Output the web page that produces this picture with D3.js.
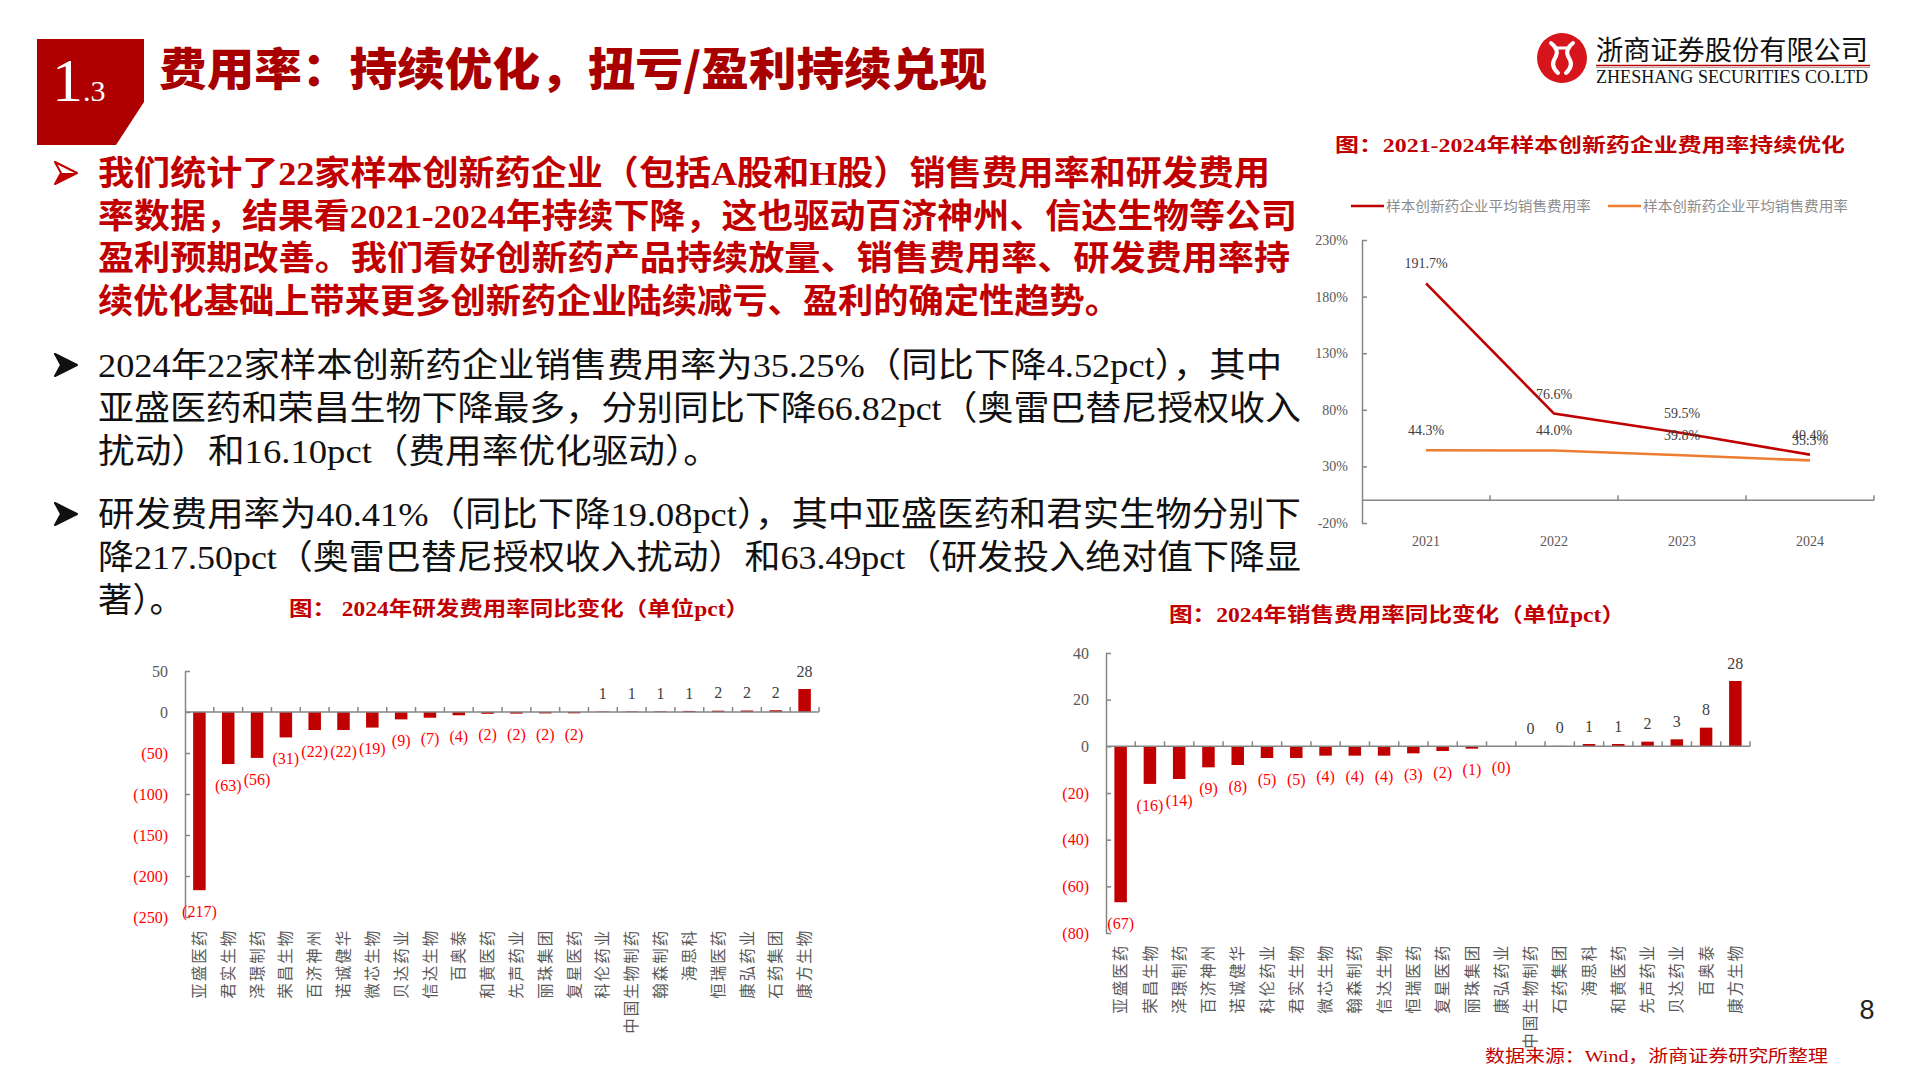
<!DOCTYPE html>
<html><head><meta charset="utf-8">
<script src="https://cdn.jsdelivr.net/npm/d3@7"></script>
<style>body{margin:0;background:#fff}svg{display:block}</style>
</head><body><svg id="c" width="1920" height="1080"></svg>
<script>
// ---------- data ----------
const lineYears = ["2021", "2022", "2023", "2024"];
const lineSeriesA = [191.7, 76.6, 59.5, 40.4];
const lineSeriesB = [44.3, 44.0, 39.8, 35.3];
const lineLegend = ["样本创新药企业平均销售费用率", "样本创新药企业平均销售费用率"];
const lineTicks = [-20, 30, 80, 130, 180, 230];

const rdCompanies = ["亚盛医药","君实生物","泽璟制药","荣昌生物","百济神州","诺诚健华","微芯生物","贝达药业","信达生物","百奥泰","和黄医药","先声药业","丽珠集团","复星医药","科伦药业","中国生物制药","翰森制药","海思科","恒瑞医药","康弘药业","石药集团","康方生物"];
const rdValues = [-217.3,-63.49,-56,-31,-22,-22,-19,-9,-7,-4,-2.2,-2.0,-1.7,-1.6,0.6,0.7,0.8,1.3,1.6,1.8,2.1,28];
const rdTicks = [50, 0, -50, -100, -150, -200, -250];

const salesCompanies = ["亚盛医药","荣昌生物","泽璟制药","百济神州","诺诚健华","科伦药业","君实生物","微芯生物","翰森制药","信达生物","恒瑞医药","复星医药","丽珠集团","康弘药业","中国生物制药","石药集团","海思科","和黄医药","先声药业","贝达药业","百奥泰","康方生物"];
const salesValues = [-66.82,-16.10,-14,-9,-8,-5,-5,-4,-4,-4,-3,-2,-1,-0.2,0.1,0.2,1,1,2,3,8,28];
const salesTicks = [40, 20, 0, -20, -40, -60, -80];

const titleText = "费用率：持续优化，扭亏/盈利持续兑现";
const para1 = [
  "我们统计了22家样本创新药企业（包括A股和H股）销售费用率和研发费用",
  "率数据，结果看2021-2024年持续下降，这也驱动百济神州、信达生物等公司",
  "盈利预期改善。我们看好创新药产品持续放量、销售费用率、研发费用率持",
  "续优化基础上带来更多创新药企业陆续减亏、盈利的确定性趋势。"
];
const para2 = [
  "2024年22家样本创新药企业销售费用率为35.25%（同比下降4.52pct），其中",
  "亚盛医药和荣昌生物下降最多，分别同比下降66.82pct（奥雷巴替尼授权收入",
  "扰动）和16.10pct（费用率优化驱动）。"
];
const para3 = [
  "研发费用率为40.41%（同比下降19.08pct），其中亚盛医药和君实生物分别下",
  "降217.50pct（奥雷巴替尼授权收入扰动）和63.49pct（研发投入绝对值下降显",
  "著）。"
];

// ---------- setup ----------
const svg = d3.select("#c");
svg.append("rect").attr("width", 1920).attr("height", 1080).attr("fill", "#fff");
const MIX = "'Liberation Serif','Noto Sans CJK SC',serif";
const SANSCJK = "'Noto Sans CJK SC','Liberation Sans',sans-serif";
const AXC = "#868686";
const DARKRED = "#C00000";

// ---------- header ----------
svg.append("path").attr("d", "M37,39 H144 V102 L116,145 H37 Z").attr("fill", "#AE0000");
svg.append("text").attr("x", 52).attr("y", 101).attr("font-family", "'Liberation Serif',serif")
  .attr("font-size", 62).attr("fill", "#fff").text("1");
svg.append("text").attr("x", 83).attr("y", 101).attr("font-family", "'Liberation Serif',serif")
  .attr("font-size", 30).attr("fill", "#fff").text(".3");
svg.append("text").attr("x", 159).attr("y", 86).attr("font-family", SANSCJK)
  .attr("font-weight", 900).attr("font-size", 45).attr("fill", "#A80000")
  .attr("textLength", 828).attr("lengthAdjust", "spacingAndGlyphs").text(titleText);

// logo
svg.append("circle").attr("cx", 1562).attr("cy", 58).attr("r", 25).attr("fill", "#D7151D");
const lg = svg.append("g").attr("fill", "none").attr("stroke", "#fff").attr("stroke-width", 4).attr("stroke-linecap", "round");
lg.append("path").attr("d", "M1551,43 Q1560,50 1555,58 Q1550,66 1558,73");
lg.append("path").attr("d", "M1573,43 Q1564,50 1569,58 Q1574,66 1566,73");
lg.append("path").attr("d", "M1556,48 L1568,48").attr("stroke-width", 3);
svg.append("text").attr("x", 1596).attr("y", 60).attr("font-family", SANSCJK).attr("font-size", 27)
  .attr("fill", "#111").attr("textLength", 272).attr("lengthAdjust", "spacingAndGlyphs").text("浙商证券股份有限公司");
svg.append("line").attr("x1", 1596).attr("x2", 1870).attr("y1", 65.5).attr("y2", 65.5).attr("stroke", "#C00000").attr("stroke-width", 1.5);
svg.append("line").attr("x1", 1596).attr("x2", 1870).attr("y1", 67.5).attr("y2", 67.5).attr("stroke", "#999").attr("stroke-width", 0.8);
svg.append("text").attr("x", 1596).attr("y", 83).attr("font-family", "'Liberation Serif',serif").attr("font-size", 18)
  .attr("fill", "#111").attr("textLength", 272).attr("lengthAdjust", "spacingAndGlyphs").text("ZHESHANG SECURITIES CO.LTD");

// ---------- paragraphs ----------
function bullet(cy, color, outline) {
  const g = svg.append("g").attr("transform", `translate(55,${cy - 11})`);
  g.append("path").attr("d", "M0,0 L22,11 L0,22 L6,11 Z")
    .attr("fill", outline ? "#fff" : color).attr("stroke", color).attr("stroke-width", 2).attr("stroke-linejoin", "round");
  g.append("path").attr("d", "M0,22 L22,11 L6,11 Z").attr("fill", color);
}
function para(lines, ys, lens, opts) {
  lines.forEach((t, i) => {
    const el = svg.append("text").attr("x", 98).attr("y", ys[i] + 12)
      .attr("font-family", MIX).attr("font-size", opts.fs).attr("font-weight", opts.fw)
      .attr("fill", opts.fill).text(t);
    if (lens[i]) el.attr("textLength", lens[i]).attr("lengthAdjust", "spacingAndGlyphs");
  });
}
bullet(173, DARKRED, true);
para(para1, [173, 215.5, 258, 301], [1172, 1199, 1192, 1022], { fs: 34, fw: 700, fill: DARKRED });
bullet(365, "#111", false);
para(para2, [365, 408, 451], [1184, 1203, 622], { fs: 34, fw: 400, fill: "#111" });
bullet(514, "#111", false);
para(para3, [514, 557, 600], [1203, 1203, 86], { fs: 34, fw: 400, fill: "#111" });

// ---------- line chart ----------
(function () {
  svg.append("text").attr("x", 1335).attr("y", 152).attr("font-family", MIX).attr("font-weight", 700)
    .attr("font-size", 19).attr("fill", DARKRED).attr("textLength", 510).attr("lengthAdjust", "spacingAndGlyphs")
    .text("图：2021-2024年样本创新药企业费用率持续优化");
  const x = d3.scaleBand().domain(lineYears).range([1362, 1874]);
  const y = d3.scaleLinear().domain([-20, 230]).range([523, 240]);
  const cx = d => x(d) + x.bandwidth() / 2;
  const lgd = [{ c: "#C00000", x: 1351 }, { c: "#ED7D31", x: 1608 }];
  lgd.forEach((l, i) => {
    svg.append("line").attr("x1", l.x).attr("x2", l.x + 33).attr("y1", 206).attr("y2", 206).attr("stroke", l.c).attr("stroke-width", 2.5);
    svg.append("text").attr("x", l.x + 35).attr("y", 211).attr("font-family", SANSCJK).attr("font-size", 14)
      .attr("fill", "#8c8c8c").attr("textLength", 205).attr("lengthAdjust", "spacingAndGlyphs").text(lineLegend[i]);
  });
  const ya = d3.axisLeft(y).tickValues(lineTicks).tickSizeInner(-5).tickSizeOuter(0).tickPadding(14).tickFormat(d => d + "%");
  const yg = svg.append("g").attr("transform", "translate(1362,0)").call(ya);
  yg.select(".domain").attr("stroke", AXC).attr("stroke-width", 1.5);
  yg.selectAll(".tick line").attr("stroke", AXC).attr("stroke-width", 1.5);
  yg.selectAll(".tick text").attr("font-family", "'Liberation Serif',serif").attr("font-size", 14).attr("fill", "#595959");
  svg.append("line").attr("x1", 1362).attr("x2", 1874).attr("y1", y(0)).attr("y2", y(0)).attr("stroke", AXC).attr("stroke-width", 1.5);
  lineYears.forEach(d => {
    const bx = x(d) + x.bandwidth();
    svg.append("line").attr("x1", bx).attr("x2", bx).attr("y1", y(0)).attr("y2", y(0) - 5).attr("stroke", AXC).attr("stroke-width", 1.5);
    svg.append("text").attr("x", cx(d)).attr("y", 546).attr("text-anchor", "middle")
      .attr("font-family", "'Liberation Serif',serif").attr("font-size", 14).attr("fill", "#595959").text(d);
  });
  const line = d3.line().x((v, i) => cx(lineYears[i])).y(v => y(v));
  [[lineSeriesB, "#ED7D31"], [lineSeriesA, "#C00000"]].forEach(([s, c]) => {
    svg.append("path").datum(s).attr("d", line).attr("fill", "none").attr("stroke", c).attr("stroke-width", 2.6);
  });
  [lineSeriesA, lineSeriesB].forEach(s => {
    s.forEach((v, i) => {
      svg.append("text").attr("x", cx(lineYears[i])).attr("y", y(v) - 20).attr("dy", "0.35em").attr("text-anchor", "middle")
        .attr("font-family", "'Liberation Serif',serif").attr("font-size", 14).attr("fill", "#404040").text(v.toFixed(1) + "%");
    });
  });
})();

// ---------- bar charts ----------
function fmt(v) { const r = Math.round(Math.abs(v)); return v < 0 ? "(" + r + ")" : String(r); }
function barChart(c) {
  svg.append("text").attr("x", c.titleX).attr("y", c.titleY).attr("font-family", MIX).attr("font-weight", 700)
    .attr("font-size", 20).attr("fill", DARKRED).attr("textLength", c.titleW).attr("lengthAdjust", "spacingAndGlyphs").text(c.title);
  const x = d3.scaleBand().domain(c.names).range(c.xr);
  const y = d3.scaleLinear().domain(c.dom).range(c.yr);
  const bw = 12.5;
  svg.append("g").selectAll("rect").data(c.vals).join("rect")
    .attr("x", (v, i) => x(c.names[i]) + (x.bandwidth() - bw) / 2)
    .attr("y", v => Math.min(y(v), y(0)))
    .attr("width", bw).attr("height", v => Math.abs(y(v) - y(0)))
    .attr("fill", "#C00000");
  const ya = d3.axisLeft(y).tickValues(c.ticks).tickSizeInner(-5).tickSizeOuter(0).tickPadding(17).tickFormat(fmt);
  const yg = svg.append("g").attr("transform", `translate(${c.xr[0]},0)`).call(ya);
  yg.select(".domain").attr("stroke", AXC).attr("stroke-width", 1.5);
  yg.selectAll(".tick line").attr("stroke", AXC).attr("stroke-width", 1.5);
  yg.selectAll(".tick text").attr("font-family", "'Liberation Serif',serif").attr("font-size", 16)
    .attr("fill", d => d < 0 ? "#FF0000" : "#595959");
  svg.append("line").attr("x1", c.xr[0]).attr("x2", c.xr[1]).attr("y1", y(0)).attr("y2", y(0)).attr("stroke", AXC).attr("stroke-width", 1.5);
  c.names.forEach(n => {
    const bx = x(n) + x.bandwidth();
    svg.append("line").attr("x1", bx).attr("x2", bx).attr("y1", y(0)).attr("y2", y(0) - 5).attr("stroke", AXC).attr("stroke-width", 1.5);
  });
  c.vals.forEach((v, i) => {
    const cx = x(c.names[i]) + x.bandwidth() / 2;
    svg.append("text").attr("x", cx).attr("y", v < 0 ? y(v) + 21 : y(v) - 18).attr("dy", "0.35em")
      .attr("text-anchor", "middle").attr("font-family", "'Liberation Serif',serif").attr("font-size", 16)
      .attr("fill", v < 0 ? "#FF0000" : "#404040").text(fmt(v));
  });
  // rotated category labels: characters turned -90deg, reading bottom-to-top, last char at top
  c.names.forEach(n => {
    const cx = x(n) + x.bandwidth() / 2;
    const chars = Array.from(n);
    const g = svg.append("g");
    chars.forEach((ch, k) => {
      const cy = c.labelTop + (chars.length - 1 - k) * 17.5 + 8.5;
      g.append("text")
        .attr("transform", `translate(${cx},${cy}) rotate(-90)`)
        .attr("text-anchor", "middle").attr("dy", "0.36em")
        .attr("font-family", SANSCJK).attr("font-size", 15.5).attr("fill", "#595959")
        .text(ch);
    });
  });
}
barChart({
  names: rdCompanies, vals: rdValues, ticks: rdTicks, dom: [-250, 50], yr: [917, 671], xr: [185, 819],
  labelTop: 930, title: "图： 2024年研发费用率同比变化（单位pct）", titleX: 289, titleY: 616, titleW: 460
});
barChart({
  names: salesCompanies, vals: salesValues, ticks: salesTicks, dom: [-80, 40], yr: [933, 653], xr: [1106, 1750],
  labelTop: 945, title: "图：2024年销售费用率同比变化（单位pct）", titleX: 1169, titleY: 622, titleW: 456
});

// ---------- footer ----------
svg.append("text").attr("x", 1485).attr("y", 1062).attr("font-family", MIX).attr("font-size", 17)
  .attr("fill", DARKRED).attr("textLength", 343).attr("lengthAdjust", "spacingAndGlyphs").text("数据来源：Wind，浙商证券研究所整理");
svg.append("text").attr("x", 1867).attr("y", 1019).attr("text-anchor", "middle").attr("font-family", "'Liberation Sans',sans-serif")
  .attr("font-size", 27).attr("fill", "#222").text("8");
</script></body></html>
